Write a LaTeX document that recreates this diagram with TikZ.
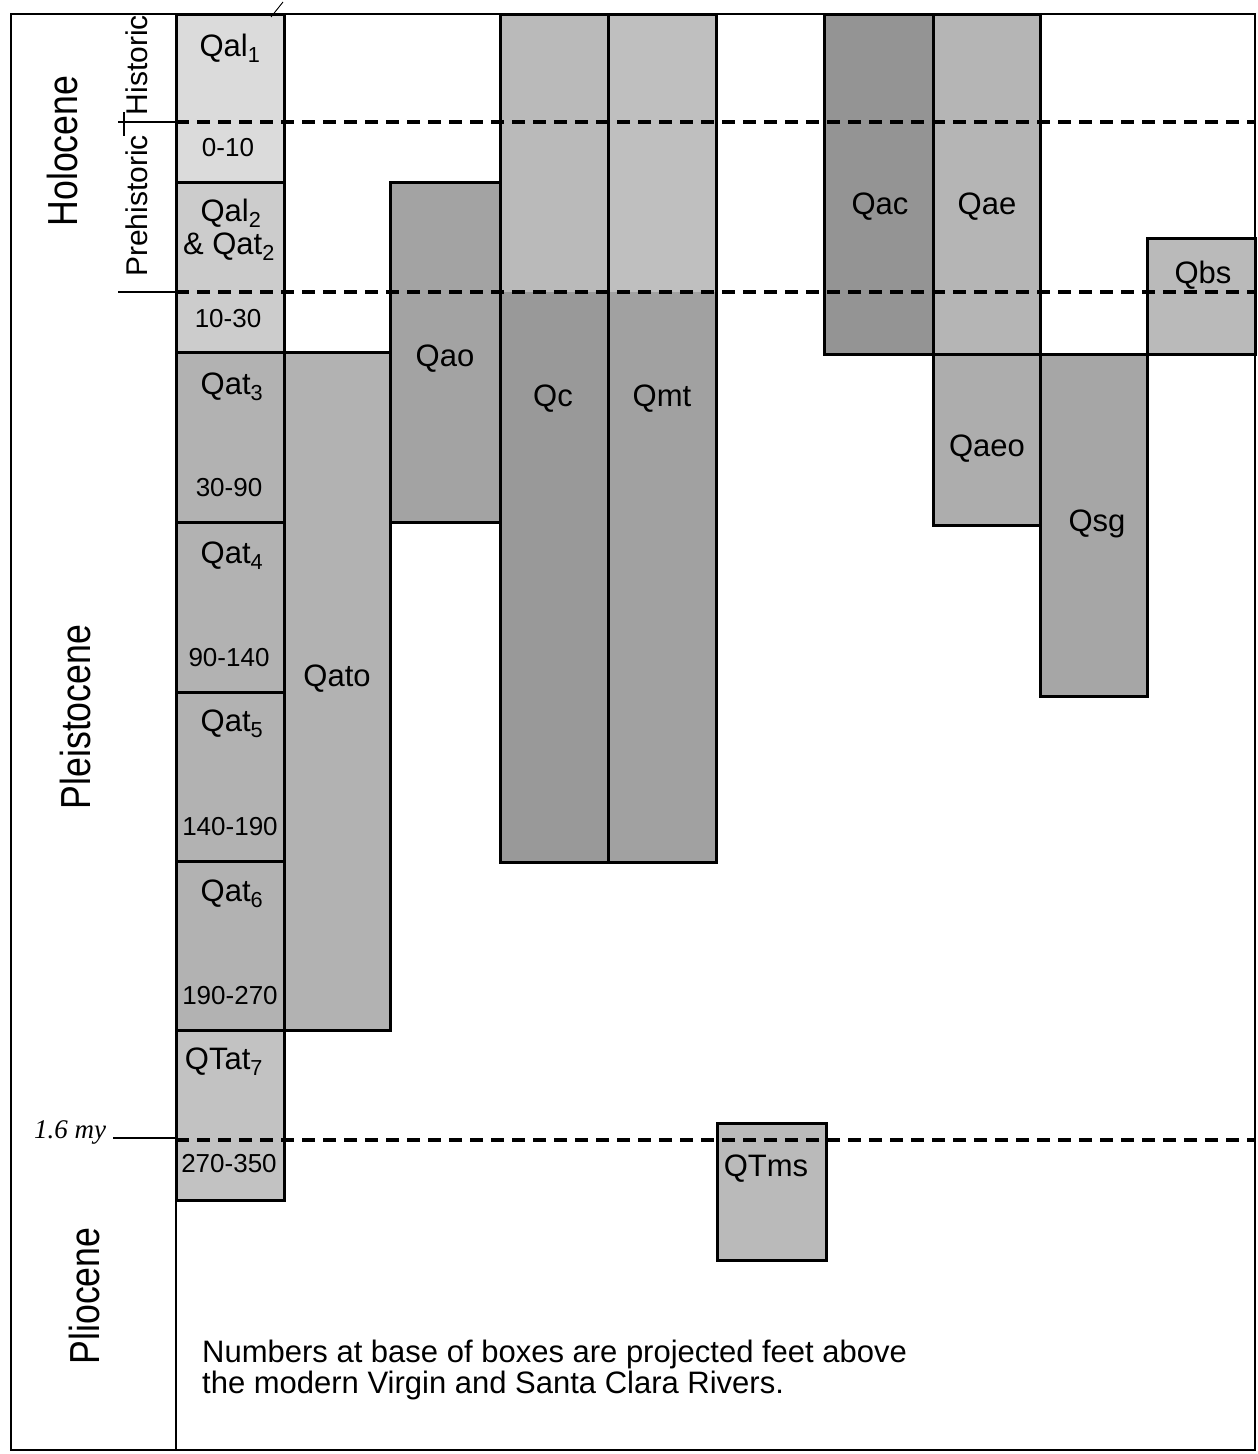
\documentclass[tikz,border=0pt]{standalone}
\usepackage{fontspec}
\setmainfont{Liberation Sans}
\newfontfamily\handfont{Liberation Serif}
\begin{document}
\begin{tikzpicture}[x=1pt,y=-1pt,
  box/.style={draw=black,line width=3pt},
  frm/.style={draw=black,line width=2.6pt},
  dline/.style={draw=black,line width=3.4pt,dash pattern=on 13pt off 8pt},
  tick/.style={draw=black,line width=2.4pt},
  lbl/.style={font=\fontsize{31}{31}\selectfont,inner sep=0pt,anchor=base},
  num/.style={font=\fontsize{26}{26}\selectfont,inner sep=0pt,anchor=base},
  epo/.style={font=\fontsize{42}{42}\selectfont,rotate=90,inner sep=0pt},
  subep/.style={font=\fontsize{30}{30}\selectfont,rotate=90,inner sep=0pt},
  note/.style={font=\fontsize{31}{31}\selectfont,inner sep=0pt,anchor=base west},
  hand/.style={font=\fontsize{27}{27}\selectfont\handfont\itshape,inner sep=0pt}
]
\useasboundingbox (0,0) rectangle (1258,1454);
\fill[white] (0,0) rectangle (1258,1454);

% ---------- fills ----------
\fill[black!14] (176,14) rectangle (284,182);   % Qal1 / 0-10
\fill[black!20] (176,182) rectangle (284,352);  % Qal2
\fill[black!30] (176,352) rectangle (284,1030); % Qat3-6
\fill[black!24] (176,1030) rectangle (284,1200);% QTat7
\fill[black!30] (284,352) rectangle (390,1030); % Qato
\fill[black!36] (390,182) rectangle (500,522);  % Qao
\fill[black!27] (500,14) rectangle (608,292);   % Qc upper
\fill[black!40] (500,292) rectangle (608,862);  % Qc lower
\fill[black!25] (608,14) rectangle (716,292);   % Qmt upper
\fill[black!37] (608,292) rectangle (716,862);  % Qmt lower
\fill[black!42] (824,14) rectangle (933,354);   % Qac
\fill[black!29] (933,14) rectangle (1040,354);  % Qae
\fill[black!32] (933,354) rectangle (1040,525); % Qaeo
\fill[black!35] (1040,354) rectangle (1147,696);% Qsg
\fill[black!27] (1147,238) rectangle (1255,354);% Qbs
\fill[black!27] (717,1123) rectangle (826,1260);% QTms

% ---------- dashed time lines ----------
\coordinate (d1a) at (176,122);  \coordinate (d1b) at (1255,122);
\coordinate (d2a) at (176,292);  \coordinate (d2b) at (1255,292);
\coordinate (d3a) at (176,1140); \coordinate (d3b) at (1255,1140);
\draw[dline] (d1a) -- (d1b);
\draw[dline] (d2a) -- (d2b);
\draw[dline] (d3a) -- (d3b);

% ---------- outer frame and epoch column ----------
\draw[frm] (11,14) rectangle (1255,1450);
\draw[frm] (176,14) -- (176,1450);

% sub-epoch separators
\coordinate (s1a) at (118,122); \coordinate (s2a) at (118,292);
\draw[tick] (s1a) -- (d1a);
\draw[tick] (s2a) -- (d2a);
\draw[tick,line width=2pt] (124,112) -- (124,136);
% 1.6 my marker
\coordinate (s3a) at (113,1138);
\draw[tick,line width=1.6pt] (s3a) -- (176,1138);
\draw[line width=0.9pt] (271,17) -- (283,2);

% ---------- boxes ----------
\draw[box] (176,14) rectangle (284,182);
\draw[box] (176,182) rectangle (284,352);
\draw[box] (176,352) rectangle (284,522);
\draw[box] (176,522) rectangle (284,692);
\draw[box] (176,692) rectangle (284,861);
\draw[box] (176,861) rectangle (284,1030);
\draw[box] (176,1030) rectangle (284,1200);
\draw[box] (284,352) rectangle (390,1030);
\draw[box] (390,182) rectangle (500,522);
\draw[box] (500,14) rectangle (608,862);
\draw[box] (608,14) rectangle (716,862);
\draw[box] (824,14) rectangle (933,354);
\draw[box] (933,14) rectangle (1040,354);
\draw[box] (933,354) rectangle (1040,525);
\draw[box] (1040,354) rectangle (1147,696);
\draw[box] (1147,238) rectangle (1255,354);
\draw[box] (717,1123) rectangle (826,1260);

% ---------- epoch labels ----------
\node[epo] (holo) at (62,151) {\scalebox{0.85}[1]{Holocene}};
\node[epo] (pleis) at (75,717) {\scalebox{0.85}[1]{Pleistocene}};
\node[epo] (plio) at (84,1296) {\scalebox{0.85}[1]{Pliocene}};
\node[subep] (hist) at (137,65) {Historic};
\node[subep] (prehist) at (137,206) {Prehistoric};
\node[hand] (myr) at (70,1132) {1.6 my};

% ---------- box labels ----------
\node[lbl] (qal1) at (230,56) {Qal\textsubscript{1}};
\node[num] (n010) at (228,156) {0-10};
\node[lbl] (qal2a) at (231,221) {Qal\textsubscript{2}};
\node[lbl] (qal2b) at (229,254) {\& Qat\textsubscript{2}};
\node[num] (n1030) at (228,327) {10-30};
\node[lbl] (qat3) at (232,394) {Qat\textsubscript{3}};
\node[num] (n3090) at (229,496) {30-90};
\node[lbl] (qat4) at (232,563) {Qat\textsubscript{4}};
\node[num] (n90140) at (229,666) {90-140};
\node[lbl] (qat5) at (232,731) {Qat\textsubscript{5}};
\node[num] (n140190) at (230,835) {140-190};
\node[lbl] (qat6) at (232,901) {Qat\textsubscript{6}};
\node[num] (n190270) at (230,1004) {190-270};
\node[lbl] (qtat7) at (224,1069) {QTat\textsubscript{7}};
\node[num] (n270350) at (229,1172) {270-350};
\node[lbl] (qato) at (337,686) {Qato};
\node[lbl] (qao) at (445,366) {Qao};
\node[lbl] (qc) at (553,406) {Qc};
\node[lbl] (qmt) at (662,406) {Qmt};
\node[lbl] (qac) at (880,214) {Qac};
\node[lbl] (qae) at (987,214) {Qae};
\node[lbl] (qaeo) at (987,456) {Qaeo};
\node[lbl] (qsg) at (1097,531) {Qsg};
\node[lbl] (qbs) at (1203,283) {Qbs};
\node[lbl] (qtms) at (766,1176) {QTms};

% ---------- note ----------
\node[note] (note1) at (202,1362) {Numbers at base of boxes are projected feet above};
\node[note] (note2) at (202,1393) {the modern Virgin and Santa Clara Rivers.};
\end{tikzpicture}
\end{document}
